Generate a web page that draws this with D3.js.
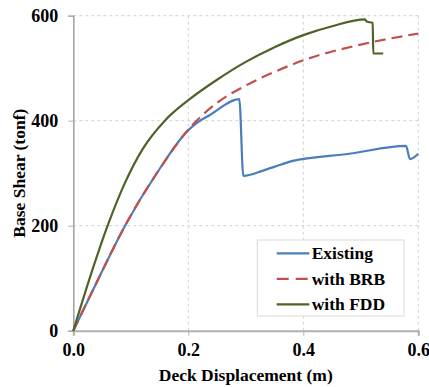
<!DOCTYPE html>
<html lang="en">
<head>
  <meta charset="utf-8">
  <title>Base Shear vs Deck Displacement</title>
  <script src="https://d3js.org/d3.v7.min.js"></script>
  <style>
    body { margin: 0; background: #fff; }
    text { font-family: "Liberation Serif", "Times New Roman", serif; font-weight: bold; fill: #000; }
  </style>
</head>
<body>
  <svg id="chart" width="429" height="387"></svg>

  <script>
    // ticks
    const xTickValues = [0, 0.2, 0.4, 0.6];
    const yTickValues = [0, 200, 400, 600];

    // series (displacement m, shear tonf)
    const existingX = [0, 0.045, 0.09, 0.15, 0.2, 0.215, 0.2377, 0.2887, 0.2957, 0.33, 0.36, 0.3798, 0.48, 0.5786, 0.5855, 0.6];
    const existingY = [0, 102, 200, 308, 382, 396, 411, 441, 295, 305, 316, 323, 337, 352, 327, 337];

    const brbX = [0, 0.045, 0.09, 0.15, 0.2, 0.25, 0.3, 0.35, 0.4, 0.5, 0.6];
    const brbY = [0, 102, 200, 308, 383, 434, 467, 493, 515, 545, 566];

    const fddX = [0, 0.03, 0.06, 0.09, 0.12, 0.16, 0.2, 0.25, 0.3, 0.35, 0.4, 0.45, 0.5073, 0.5103, 0.5207, 0.5217, 0.539];
    const fddY = [0, 105, 201, 282, 345, 401, 439, 478, 512, 540, 563, 580, 593, 589, 586, 528, 528];

    const seriesNames = ["Existing", "with BRB", "with FDD"];
    const seriesColors = ["#4a7ebb", "#c0504d", "#4f6228"];

    const series = [
      { name: seriesNames[0], color: seriesColors[0], dash: null, xs: existingX, ys: existingY },
      { name: seriesNames[1], color: seriesColors[1], dash: "11,6", xs: brbX, ys: brbY },
      { name: seriesNames[2], color: seriesColors[2], dash: null, xs: fddX, ys: fddY }
    ];

    const margin = { top: 15.7, right: 10.7, bottom: 56.3, left: 73.3 };
    const width = 429 - margin.left - margin.right;
    const height = 387 - margin.top - margin.bottom;

    const svg = d3.select("#chart");
    const g = svg.append("g").attr("transform", `translate(${margin.left},${margin.top})`);

    const x = d3.scaleLinear().domain([0, 0.6]).range([0, width]);
    const y = d3.scaleLinear().domain([0, 600]).range([height, 0]);

    // gridlines
    g.append("g")
      .selectAll("line")
      .data(yTickValues.filter(d => d > 0))
      .enter().append("line")
      .attr("x1", 0).attr("x2", width)
      .attr("y1", d => y(d)).attr("y2", d => y(d))
      .attr("stroke", "#d0d0d0").attr("stroke-width", 1).attr("stroke-dasharray", "3,3");

    g.append("g")
      .selectAll("line")
      .data(xTickValues.filter(d => d > 0))
      .enter().append("line")
      .attr("y1", 0).attr("y2", height)
      .attr("x1", d => x(d)).attr("x2", d => x(d))
      .attr("stroke", "#d0d0d0").attr("stroke-width", 1).attr("stroke-dasharray", "3,3");

    // axes
    const xAxis = g.append("g")
      .attr("transform", `translate(0,${height})`)
      .call(d3.axisBottom(x).tickValues(xTickValues).tickFormat(d3.format(".1f")).tickSize(5).tickPadding(8));
    xAxis.select(".domain").attr("stroke", "#b0b0b0").attr("stroke-width", 2);
    xAxis.selectAll(".tick line").attr("stroke", "#b0b0b0");
    xAxis.selectAll(".tick text").style("font-size", "18px").style("font-family", "Liberation Serif").style("font-weight", "bold");

    const yAxis = g.append("g")
      .call(d3.axisLeft(y).tickValues(yTickValues).tickFormat(d3.format("d")).tickSize(5).tickPadding(10));
    yAxis.select(".domain").attr("stroke", "#a0a0a0").attr("stroke-width", 1.5);
    yAxis.selectAll(".tick line").attr("stroke", "#b0b0b0");
    yAxis.selectAll(".tick text").style("font-size", "18px").style("font-family", "Liberation Serif").style("font-weight", "bold");

    // lines
    const line = d3.line()
      .x(d => x(d[0]))
      .y(d => y(d[1]))
      .curve(d3.curveMonotoneX);

    series.forEach(s => {
      const pts = s.xs.map((v, i) => [v, s.ys[i]]);
      g.append("path")
        .datum(pts)
        .attr("fill", "none")
        .attr("stroke", s.color)
        .attr("stroke-width", 2.2)
        .attr("stroke-dasharray", s.dash)
        .attr("stroke-linejoin", "round")
        .attr("d", line);
    });

    // axis titles
    svg.append("text")
      .attr("x", margin.left + width / 2)
      .attr("y", 381)
      .attr("text-anchor", "middle")
      .style("font-size", "17.5px")
      .text("Deck Displacement (m)");

    svg.append("text")
      .attr("transform", `translate(19,${margin.top + height / 2}) rotate(-90)`)
      .attr("text-anchor", "middle")
      .attr("dy", "0.35em")
      .style("font-size", "17.5px")
      .text("Base Shear (tonf)");

    // legend
    const legend = svg.append("g").attr("transform", "translate(257.3,240)");
    legend.append("rect")
      .attr("width", 146.7).attr("height", 76)
      .attr("fill", "#fff").attr("stroke", "#d9d9d9");

    const items = legend.selectAll(".legendItem")
      .data(series)
      .enter().append("g")
      .attr("class", "legendItem")
      .attr("transform", (d, i) => `translate(0,${13.3 + i * 25.5})`);

    items.append("line")
      .attr("x1", 19.4).attr("x2", 52)
      .attr("stroke", d => d.color)
      .attr("stroke-width", 2.2)
      .attr("stroke-dasharray", d => d.dash ? "12,7" : null);

    items.append("text")
      .attr("x", 54.4)
      .attr("dy", "0.35em")
      .style("font-size", "17.5px")
      .text(d => d.name);
  </script>
</body>
</html>
